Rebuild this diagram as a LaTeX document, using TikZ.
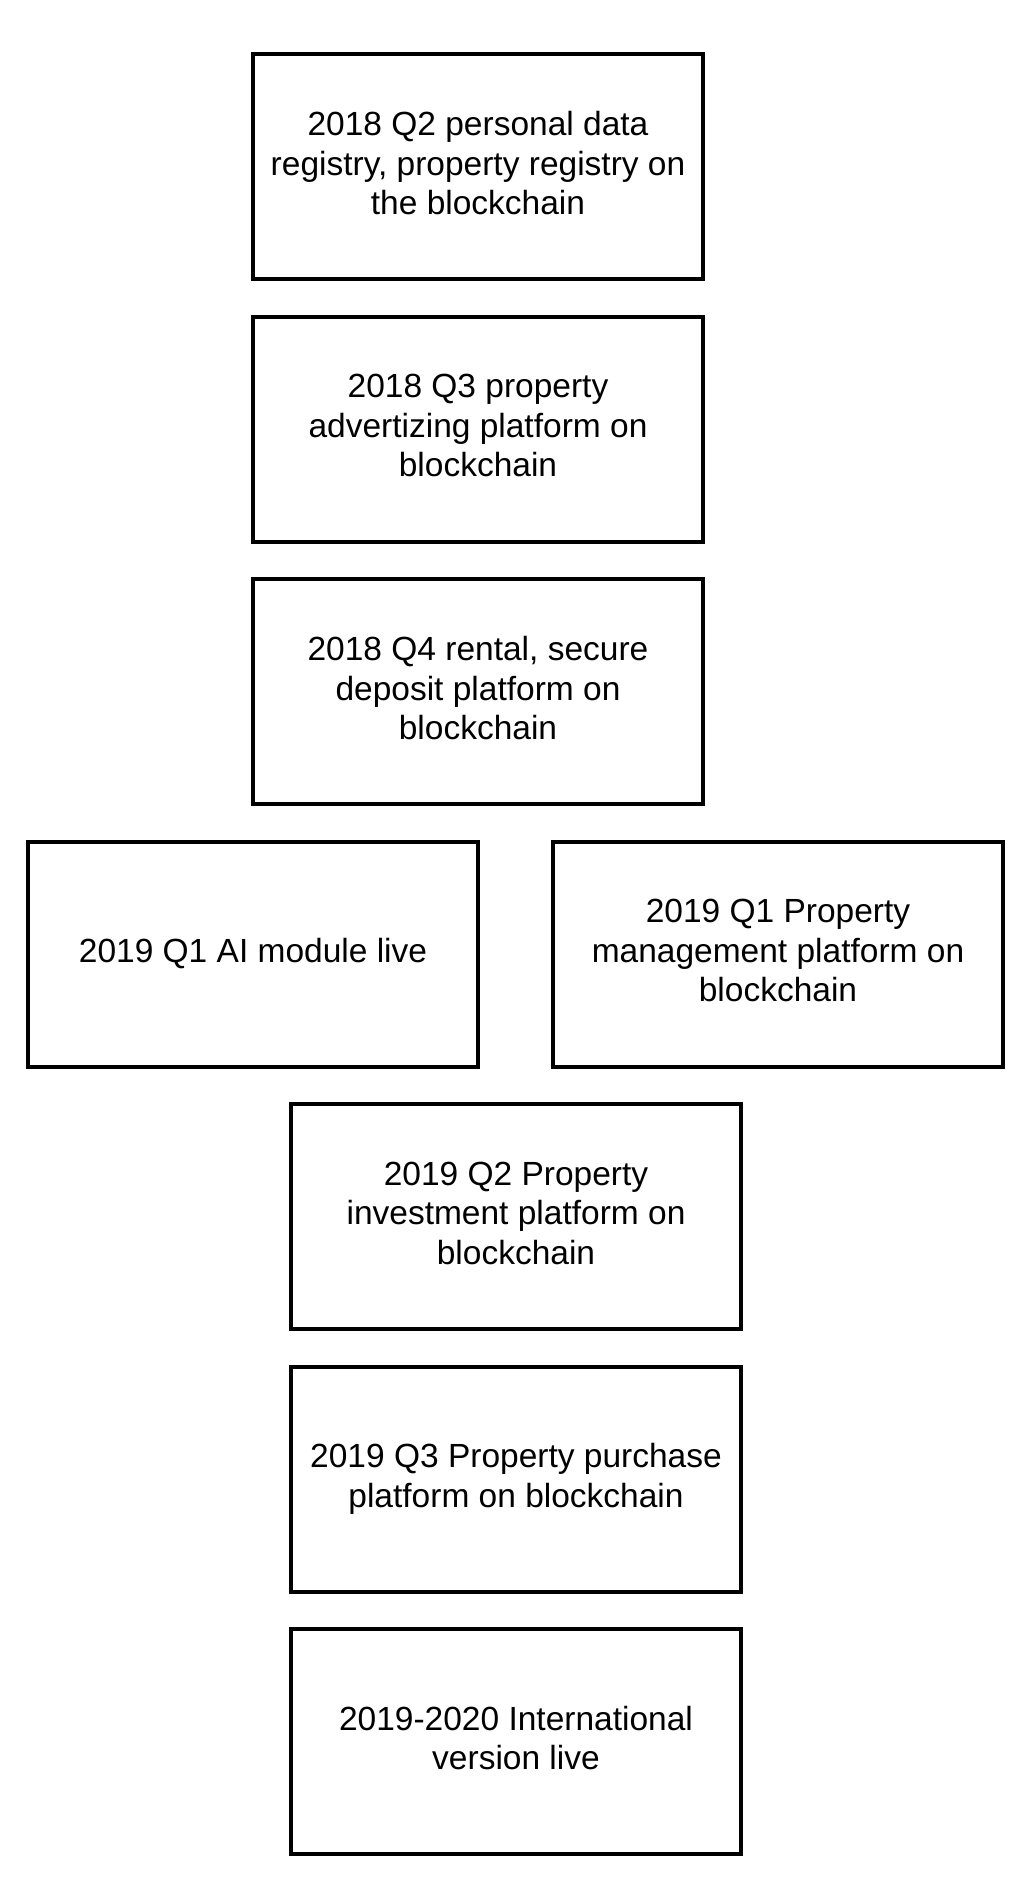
\documentclass[tikz,border=0pt]{standalone}
\usepackage{fontspec}
\usepackage{tikz}
\setmainfont{Liberation Sans}

\tikzset{
  milestone/.style={draw, line width=4pt, minimum width=450pt, minimum height=225pt,
    inner sep=0pt, align=center, font=\fontsize{33.5}{39.6}\selectfont,
    execute at end node={\vphantom{p}}}
}

\begin{document}
\begin{tikzpicture}[x=1pt,y=-1pt]
            \useasboundingbox (0,0) rectangle (1016,1884);
            \node[milestone] (q2) at (478,166.5) {2018 Q2 personal data\\registry, property registry on\\the blockchain};
            \node[milestone] (q3) at (478,429) {2018 Q3 property\\advertizing platform on\\blockchain};
            \node[milestone] (q4) at (478,691.5) {2018 Q4 rental, secure\\deposit platform on\\blockchain};
            \node[milestone] (ai) at (253,954) {2019 Q1 AI module live};
            \node[milestone] (mgmt) at (778,954) {2019 Q1 Property\\management platform on\\blockchain};
            \node[milestone] (invest) at (516,1216.5) {2019 Q2 Property\\investment platform on\\blockchain};
            \node[milestone] (purchase) at (516,1479) {2019 Q3 Property purchase\\platform on blockchain};
            \node[milestone] (intl) at (516,1741.5) {2019-2020 International\\version live};
        \end{tikzpicture}
\end{document}
